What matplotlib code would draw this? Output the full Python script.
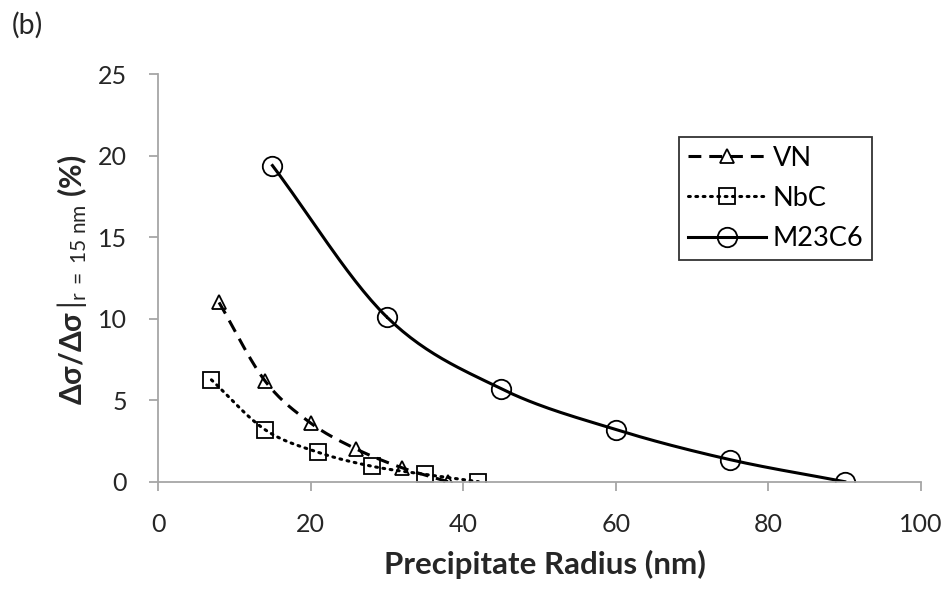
import numpy as np
import matplotlib
matplotlib.use('Agg')
import matplotlib.pyplot as plt

# data
vn_r = [8, 14, 20, 26, 32, 38]
vn_val = [11.0, 6.2, 3.6, 2.0, 0.85, 0.0]
nbc_r = [7, 14, 21, 28, 35, 42]
nbc_val = [6.25, 3.2, 1.8, 0.95, 0.45, 0.0]
m23_r = [15, 30, 45, 60, 75, 90]
m23_val = [19.4, 10.1, 5.7, 3.2, 1.35, 0.0]

plt.rcParams['font.family'] = ['Lato', 'DejaVu Sans']
plt.rcParams['mathtext.fontset'] = 'custom'
plt.rcParams['mathtext.rm'] = 'Lato'
plt.rcParams['mathtext.bf'] = 'Lato:bold'
plt.rcParams['mathtext.it'] = 'Lato:italic'


def smooth(x, y, n=30):
    # catmull-rom curve through the points, like excel's smoothed line
    x = np.asarray(x, float)
    y = np.asarray(y, float)
    px = np.concatenate([[2 * x[0] - x[1]], x, [2 * x[-1] - x[-2]]])
    py = np.concatenate([[2 * y[0] - y[1]], y, [2 * y[-1] - y[-2]]])
    xs, ys = [], []
    t = np.linspace(0, 1, n)
    for i in range(1, len(px) - 2):
        for p, out in ((px, xs), (py, ys)):
            p0, p1, p2, p3 = p[i - 1], p[i], p[i + 1], p[i + 2]
            out.extend(0.5 * ((2 * p1) + (-p0 + p2) * t
                              + (2 * p0 - 5 * p1 + 4 * p2 - p3) * t ** 2
                              + (-p0 + 3 * p1 - 3 * p2 + p3) * t ** 3))
    return xs, ys


fig = plt.figure(figsize=(9.49, 5.89), dpi=100)
ax = fig.add_axes([0.1665, 0.1822, 0.804, 0.6917])

series = [
    (vn_r, vn_val, 'VN', (0, (4.2, 2.6)), '^', 10),
    (nbc_r, nbc_val, 'NbC', (0, (0.6, 1.8)), 's', 11),
    (m23_r, m23_val, 'M23C6', '-', 'o', 14),
]
for xr, yv, name, ls, mk, ms in series:
    sx, sy = smooth(xr, yv)
    cap = 'round' if name == 'NbC' else 'butt'
    ax.plot(sx, sy, color='black', lw=2.2, ls=ls, dash_capstyle=cap)
    ax.plot(xr, yv, ls='none', marker=mk, ms=ms, mfc='none', mec='black', mew=1.3)

# legend proxies
handles = []
for xr, yv, name, ls, mk, ms in series:
    cap = 'round' if name == 'NbC' else 'butt'
    h, = ax.plot([], [], color='black', lw=2.2, ls=ls, marker=mk, ms=ms,
                 mfc='none', mec='black', mew=1.3, dash_capstyle=cap)
    handles.append(h)
leg = ax.legend(handles, ['VN', 'NbC', 'M23C6'], loc='upper right',
                bbox_to_anchor=(0.936, 0.846), borderaxespad=0, fontsize=19.5,
                frameon=True, fancybox=False, edgecolor='black',
                handlelength=2.9, handletextpad=0.25, borderpad=0.32,
                labelspacing=0.56)
leg.get_frame().set_linewidth(1.3)

ax.set_xlim(0, 100)
ax.set_ylim(0, 25)
ax.set_xticks(range(0, 101, 20))
ax.set_yticks(range(0, 26, 5))
for s in ['top', 'right']:
    ax.spines[s].set_visible(False)
for s in ['left', 'bottom']:
    ax.spines[s].set_color('#a6a6a6')
    ax.spines[s].set_linewidth(1.3)
ax.tick_params(colors='#a6a6a6', labelcolor='#262626', labelsize=18,
               length=6.5, width=1.3, direction='out', pad=16)

fig.text(0.574, 1 - 574 / 589, 'Precipitate Radius (nm)', fontsize=22.5,
         fontweight='bold', color='#262626', ha='center', va='baseline')
fig.text(72 / 949, 1 - 280 / 589,
         r'$\mathbf{\Delta\sigma/\Delta\sigma}\,|_{\mathrm{r\ =\ 15\ nm}}\ \mathbf{(\%)}$',
         fontsize=21.5, color='#262626', rotation=90, ha='center', va='center')

fig.text(0.0126, 1 - 25.5 / 589, '(b)', fontsize=20.5, color='#262626', va='center')

fig.savefig('out.png', dpi=100)
